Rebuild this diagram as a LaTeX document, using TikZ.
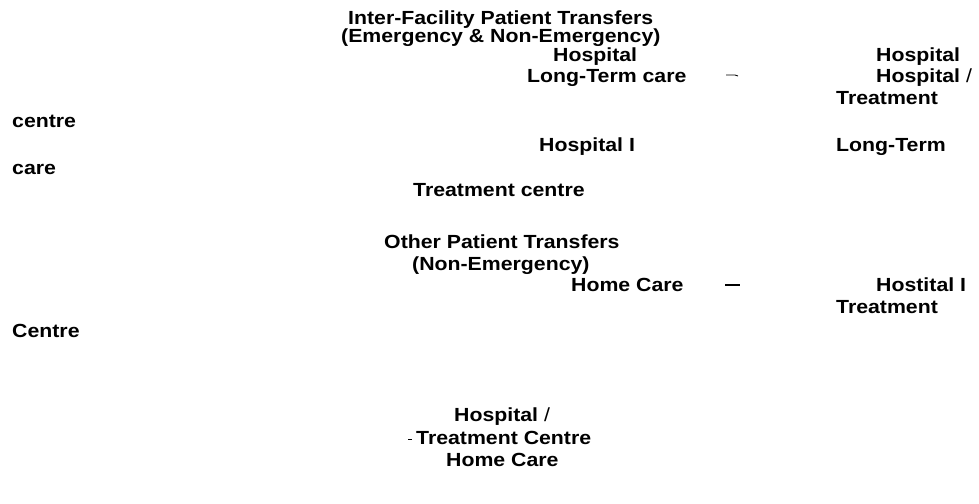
\documentclass[tikz,border=0pt]{standalone}
\usepackage{fontspec}
\setmainfont{Liberation Sans}[FakeStretch=1.12]
\usepackage{tikz}
\usetikzlibrary{
    positioning,
    calc
}

\begin{document}
\begin{tikzpicture}[
        x=1pt, y=-1pt,
        label/.style={
            anchor=base west,
            inner sep=0pt,
            font=\fontsize{19}{21}\selectfont\bfseries
        },
        tick/.style={
            line width=1.4pt
        },
        thintick/.style={
            line width=0.8pt
        }
    ]

    \useasboundingbox (0,0) rectangle (979,503);

    % inter-facility transfers
    \node[label] (ifTitle) at (348,25)
        {Inter-Facility Patient Transfers};
    \node[label] (ifSub) at (341,43)
        {(Emergency \& Non-Emergency)};

    \node[label] (hospA) at (553,61) {Hospital};
    \node[label] (hospB) at (876,61) {Hospital};
    \node[label] (ltcA) at (527,82) {Long-Term care};
    \node[label] (hospC) at (876,82) {Hospital {\mdseries /}};
    \node[label] (treatA) at (836,104) {Treatment};
    \node[label] (centreA) at (12,127) {centre};
    \node[label] (hospD) at (539,151) {Hospital I};
    \node[label] (ltcB) at (836,151) {Long-Term};
    \node[label] (careA) at (12,174) {care};
    \node[label] (treatB) at (413,196) {Treatment centre};

    % other transfers
    \node[label] (otTitle) at (384,248)
        {Other Patient Transfers};
    \node[label] (otSub) at (412,270)
        {(Non-Emergency)};

    \node[label] (homeA) at (571,291) {Home Care};
    \node[label] (hostE) at (876,291) {Hostital I};
    \node[label] (treatC) at (836,313) {Treatment};
    \node[label] (centreB) at (12,337) {Centre};

    \node[label] (hospF) at (454,421) {Hospital {\mdseries /}};
    \node[label] (treatD) at (416,444) {Treatment Centre};
    \node[label] (homeB) at (446,466) {Home Care};

    % stray arrow stubs
    \coordinate (stubAa) at (726,75);
    \coordinate (stubAb) at (735,75);
    \coordinate (stubAc) at (738,76);
    \coordinate (stubBa) at (725,285);
    \coordinate (stubBb) at (740,285);
    \coordinate (stubCa) at (408,439);
    \coordinate (stubCb) at (412,439);

    \draw[thintick] (stubAa) -- (stubAb) -- (stubAc);
    \draw[tick] (stubBa) -- (stubBb);
    \draw[thintick] (stubCa) -- (stubCb);

\end{tikzpicture}
\end{document}
